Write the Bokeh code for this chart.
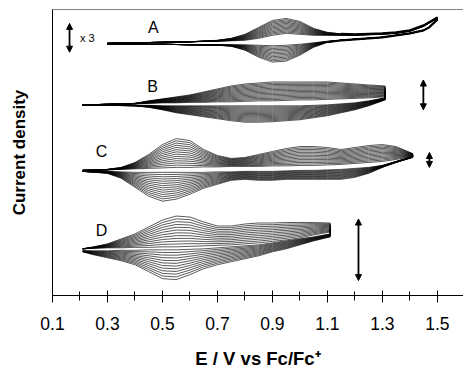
from bokeh.plotting import figure
from bokeh.models import Range1d, FixedTicker, Arrow, NormalHead, Span, ColumnDataSource
from bokeh.core.properties import value
from bokeh.embed import file_html
from bokeh.resources import INLINE

# ---------------- data (currents in arbitrary units) ----------------
tick_labels = ["0.1", "0.3", "0.5", "0.7", "0.9", "1.1", "1.3", "1.5"]
minor_ticks = [0.2, 0.4, 0.6, 0.8, 1.0, 1.2, 1.4, 1.6]

# Trace A (x3)
A_E_fwd = [0.30, 0.40, 0.50, 0.60, 0.70, 0.75, 0.80, 0.85, 0.90, 0.95, 1.00, 1.05, 1.10, 1.15, 1.20, 1.25, 1.30, 1.35, 1.40, 1.45, 1.50]
A_fwd_last = [0, 0.5, 1, 1.5, 3, 5, 9, 16, 23, 25, 22, 15, 11, 9.5, 9, 9.5, 10, 11, 13, 18, 26]
A_fwd_first = [0, 0.5, 1, 1.5, 2, 2.5, 3, 5, 8, 10, 9, 8, 8, 8, 8, 8.5, 9, 10, 12, 17, 25]
A_E_rev = [1.50, 1.47, 1.45, 1.40, 1.35, 1.30, 1.25, 1.20, 1.15, 1.10, 1.05, 1.00, 0.95, 0.90, 0.85, 0.80, 0.75, 0.70, 0.60, 0.50, 0.40, 0.30]
A_rev_last = [24, 16, 13, 10, 8, 6, 5, 4, 3, 1, -4, -12, -18, -19, -14, -7, -3, -2, -1.5, -1, -1, -1]
A_rev_first = [23, 16, 13, 10, 8, 6, 5, 4, 3, 2, 0.5, -1, -2, -2.5, -2, -1.5, -1.5, -1.5, -1.5, -1, -1, -1]
A_cycles = 13

# Trace B
B_E_fwd = [0.21, 0.30, 0.40, 0.45, 0.50, 0.55, 0.60, 0.65, 0.70, 0.75, 0.80, 0.85, 0.90, 0.95, 1.00, 1.05, 1.10, 1.15, 1.20, 1.25, 1.31]
B_fwd_last = [0, 0.5, 1.5, 4, 6, 8, 10, 13, 16, 19, 21, 22, 23, 23, 23, 23, 23, 22, 21, 20, 19]
B_fwd_first = [0, 0.5, 1, 1.5, 2, 2, 2.5, 2.5, 3, 3, 3.5, 4, 4, 4.5, 5, 5, 5.5, 6, 6.5, 7, 8]
B_E_rev = B_E_fwd[::-1]
B_rev_last = [5, -1, -5, -8, -11, -13, -15, -16, -17, -17.5, -17.5, -16, -14, -12, -10, -8, -5, -2.5, -1, -0.5, -0.5]
B_rev_first = [7, 4, 2, 1, 0, -0.5, -1, -1, -1, -1, -1, -1, -1, -1, -1, -1, -1, -0.5, -0.5, -0.5, -0.5]
B_cycles = 16

# Trace C
C_E_fwd = [0.21, 0.30, 0.35, 0.40, 0.45, 0.50, 0.55, 0.60, 0.65, 0.70, 0.75, 0.80, 0.85, 0.90, 0.95, 1.00, 1.05, 1.10, 1.15, 1.20, 1.25, 1.30, 1.35, 1.41]
C_fwd_last = [0, 1, 3, 8, 16, 26, 32, 30, 21, 15, 12, 13, 16, 19, 22, 24, 24, 23, 21, 23, 25, 26, 24, 17]
C_fwd_first = [0, 0.5, 1, 1.5, 2, 2.5, 3, 3, 3.5, 3.5, 4, 4, 4, 4.5, 4.5, 5, 5, 5.5, 6, 7, 8, 9, 11, 14]
C_E_rev = C_E_fwd[::-1]
C_rev_last = [13, 8, 3, -3, -7, -9, -9, -9, -9, -9, -10, -10, -9, -10, -14, -18, -24, -29, -31, -26, -17, -8, -3, -1]
C_rev_first = [14, 9, 5, 3, 2, 1, 0.5, 0, 0, -0.5, -1, -1, -1, -1.5, -1.5, -2, -2, -2, -2, -2, -2, -1.5, -1, -1]
C_cycles = 14

# Trace D
D_E_fwd = [0.21, 0.25, 0.30, 0.35, 0.40, 0.45, 0.50, 0.55, 0.60, 0.65, 0.70, 0.75, 0.80, 0.85, 0.90, 0.95, 1.00, 1.05, 1.11]
D_fwd_last = [1, 3, 6, 11, 16, 23, 30, 34, 33, 28, 24, 24, 26, 27, 27, 27.5, 27.5, 27.5, 27]
D_fwd_first = [1, 1.5, 2, 2, 2.5, 2.5, 3, 3, 3.5, 4, 4.5, 5, 6, 7, 8.5, 10, 12, 15, 18]
D_E_rev = D_E_fwd[::-1]
D_rev_last = [13, 9, 5, 1, -2, -6, -9, -12, -15, -19, -25, -30, -29, -22, -15, -11, -8, -5, -2]
D_rev_first = [16, 13, 11, 9, 7, 5, 4, 3, 2, 1, 0.5, 0, 0, 0, -0.5, -0.5, -1, -1, -1]
D_cycles = 12

trace_names = ["A", "B", "C", "D"]

# ---------------- layout ----------------
offsets = {"A": 254, "B": 192, "C": 126, "D": 46}
traces = {
    "A": (A_E_fwd, A_fwd_first, A_fwd_last, A_E_rev, A_rev_first, A_rev_last, A_cycles),
    "B": (B_E_fwd, B_fwd_first, B_fwd_last, B_E_rev, B_rev_first, B_rev_last, B_cycles),
    "C": (C_E_fwd, C_fwd_first, C_fwd_last, C_E_rev, C_rev_first, C_rev_last, C_cycles),
    "D": (D_E_fwd, D_fwd_first, D_fwd_last, D_E_rev, D_rev_first, D_rev_last, D_cycles),
}

p = figure(width=463, height=371, output_backend="svg", toolbar_location=None,
           x_range=Range1d(0.1, 1.595), y_range=Range1d(0, 288),
           min_border_left=52, min_border_right=0, min_border_top=9, min_border_bottom=74)
p.outline_line_color = None
p.grid.visible = False
p.background_fill_color = "white"

FONT = "Liberation Sans"

for name in trace_names:
    Ef, ff, fl, Er, rf, rl, n = traces[name]
    off = offsets[name]
    xs, ys = [], []
    for k in range(n):
        t = k / (n - 1)
        fwd = [a + t * (b - a) for a, b in zip(ff, fl)]
        rev = [a + t * (b - a) for a, b in zip(rf, rl)]
        xs.append(list(Ef) + list(Er))
        ys.append([off + v for v in fwd + rev])
    p.multi_line(xs, ys, line_color="black", line_width=0.65, line_join="round")

# emphasise the overlapping anodic tail of trace A
p.line(A_E_fwd[-8:], [offsets["A"] + v for v in A_fwd_last[-8:]], line_color="black", line_width=2.2)
p.line(A_E_rev[:10], [offsets["A"] + v for v in A_rev_last[:10]], line_color="black", line_width=2.2)

# trace letters
lab_src = ColumnDataSource(dict(x=[0.467, 0.464, 0.278, 0.278], y=[270, 210, 145, 65], t=trace_names))
p.text("x", "y", text="t", source=lab_src, text_font=value(FONT), text_font_size="16px",
       text_align="center", text_baseline="middle", text_color="black")
p.text([0.2], [259], text=["x 3"], text_font=value(FONT), text_font_size="11px",
       text_align="left", text_baseline="middle", text_color="black")

# scale arrows
for (x, y0, y1) in [(0.162, 245, 274), (1.449, 187, 217), (1.471, 129, 144), (1.213, 15, 77)]:
    p.add_layout(Arrow(start=NormalHead(size=6, fill_color="black", line_color="black"),
                       end=NormalHead(size=6, fill_color="black", line_color="black"),
                       x_start=x, y_start=y0, x_end=x, y_end=y1,
                       line_width=1.8, line_color="black"))

# top frame line
p.add_layout(Span(location=288, dimension="width", line_color="black", line_width=1))

# axes
xa = p.xaxis[0]
xa.ticker = FixedTicker(ticks=[float(s) for s in tick_labels], minor_ticks=minor_ticks)
xa.major_label_overrides = {float(s): s for s in tick_labels}
xa.major_tick_out = 7
xa.major_tick_in = 5
xa.minor_tick_out = 5
xa.minor_tick_in = 4
xa.axis_line_color = "black"
xa.major_tick_line_color = "black"
xa.minor_tick_line_color = "black"
xa.major_label_text_font = FONT
xa.major_label_text_font_size = "17.5px"
xa.major_label_text_color = "black"
xa.major_label_standoff = 14
xa.axis_label = "E / V vs Fc/Fc\u207a"
xa.axis_label_text_font = FONT
xa.axis_label_text_font_style = "bold"
xa.axis_label_text_font_size = "18.5px"
xa.axis_label_text_color = "black"
xa.axis_label_standoff = 15

ya = p.yaxis[0]
ya.ticker = FixedTicker(ticks=[])
ya.major_tick_line_color = None
ya.minor_tick_line_color = None
ya.axis_line_color = "black"
ya.axis_label = "Current density"
ya.axis_label_text_font = FONT
ya.axis_label_text_font_style = "bold"
ya.axis_label_text_font_size = "17px"
ya.axis_label_text_color = "black"
ya.axis_label_standoff = 24

open("out.html", "w").write(file_html(p, INLINE))
